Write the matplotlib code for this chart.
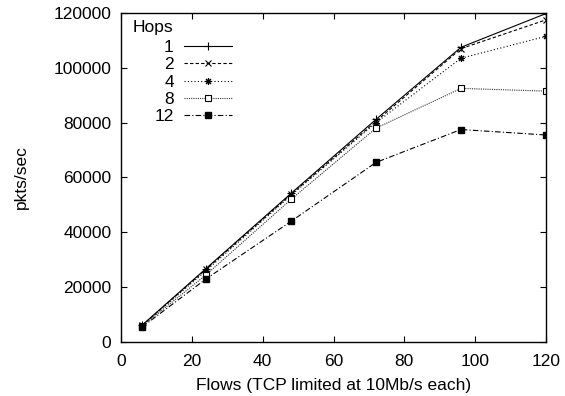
import numpy as np
import matplotlib
matplotlib.use('Agg')
import matplotlib.pyplot as plt

plt.rcParams['font.family'] = ['Liberation Sans', 'DejaVu Sans']

# data
flows = [6, 24, 48, 72, 96, 120]
hops1 = [6200, 26800, 54200, 81200, 107500, 119800]
hops2 = [6100, 26500, 53800, 80500, 107000, 117500]
hops4 = [6000, 26000, 53500, 80000, 103500, 111500]
hops8 = [5800, 24500, 52000, 78000, 92500, 91500]
hops12 = [5500, 23000, 44000, 65500, 77500, 75500]
labels = ['1', '2', '4', '8', '12']

fs = 12.5
fig = plt.figure(figsize=(5.65, 3.96), dpi=100)
ax = fig.add_axes([0.2142, 0.1364, 0.7522, 0.8308])

lw = 0.8
ax.plot(flows, hops1, color='black', lw=lw, ls='-', marker='+', ms=6, mew=0.8, label=labels[0])
ax.plot(flows, hops2, color='black', lw=lw, ls=(0, (3, 2)), marker='x', ms=4.5, mew=0.8, label=labels[1])
ax.plot(flows, hops4, color='black', lw=lw, ls=(0, (1, 2)), marker=(8, 2, 0), ms=5, mew=0.8, label=labels[2])
ax.plot(flows, hops8, color='#333333', lw=lw, ls=(0, (1, 1)), marker='s', ms=4, mfc='white', mec='black', mew=0.8, label=labels[3])
ax.plot(flows, hops12, color='black', lw=lw, ls=(0, (5, 2, 1, 2)), marker='s', ms=4.8, mfc='black', mec='black', label=labels[4])

ax.set_xlim(0, 120)
ax.set_ylim(0, 120000)
ax.set_xticks(np.arange(0, 121, 20))
ax.set_yticks(np.arange(0, 120001, 20000))
ax.tick_params(direction='in', length=4, width=0.8, top=True, right=True, labelsize=fs)
ax.tick_params(axis='x', pad=9)
ax.tick_params(axis='y', pad=7)
for s in ax.spines.values():
    s.set_linewidth(1.0)

ax.set_xlabel('Flows (TCP limited at 10Mb/s each)', fontsize=fs, labelpad=6)
ax.set_ylabel('pkts/sec', fontsize=fs, labelpad=18)

# gnuplot-style key: title left, labels right-aligned before samples
ax.text(0.028, 0.957, 'Hops', transform=ax.transAxes, fontsize=fs, ha='left', va='center')
leg = ax.legend(loc='upper right', bbox_to_anchor=(0.2612, 0.918), markerfirst=False,
                frameon=False, fontsize=fs, handlelength=2.75, handletextpad=0.6,
                labelspacing=0.12, borderpad=0, borderaxespad=0)

fig.savefig('out.png', dpi=100)
